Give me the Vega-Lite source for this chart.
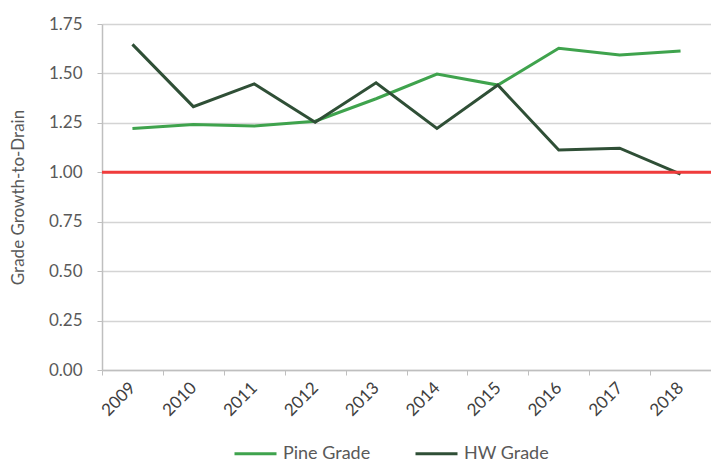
{
  "$schema": "https://vega.github.io/schema/vega-lite/v6.json",
  "autosize": "none",
  "width": 609,
  "height": 346,
  "padding": {"left": 102, "top": 24, "right": 0, "bottom": 96},
  "background": "white",
  "config": {
    "view": {"stroke": null},
    "font": "Lato"
  },
  "data": {
    "values": [
      {"year": "2009", "series": "Pine Grade", "value": 1.222},
      {"year": "2010", "series": "Pine Grade", "value": 1.242},
      {"year": "2011", "series": "Pine Grade", "value": 1.234},
      {"year": "2012", "series": "Pine Grade", "value": 1.258},
      {"year": "2013", "series": "Pine Grade", "value": 1.372},
      {"year": "2014", "series": "Pine Grade", "value": 1.497},
      {"year": "2015", "series": "Pine Grade", "value": 1.441},
      {"year": "2016", "series": "Pine Grade", "value": 1.627},
      {"year": "2017", "series": "Pine Grade", "value": 1.593},
      {"year": "2018", "series": "Pine Grade", "value": 1.613},
      {"year": "2009", "series": "HW Grade", "value": 1.647},
      {"year": "2010", "series": "HW Grade", "value": 1.332},
      {"year": "2011", "series": "HW Grade", "value": 1.447},
      {"year": "2012", "series": "HW Grade", "value": 1.253},
      {"year": "2013", "series": "HW Grade", "value": 1.453},
      {"year": "2014", "series": "HW Grade", "value": 1.222},
      {"year": "2015", "series": "HW Grade", "value": 1.441},
      {"year": "2016", "series": "HW Grade", "value": 1.113},
      {"year": "2017", "series": "HW Grade", "value": 1.122},
      {"year": "2018", "series": "HW Grade", "value": 0.991}
    ]
  },
  "layer": [
    {
      "mark": {"type": "line", "strokeWidth": 3},
      "encoding": {
        "x": {
          "field": "year",
          "type": "ordinal",
          "bandPosition": 0.5,
          "scale": {"type": "band", "paddingInner": 0, "paddingOuter": 0},
          "axis": {
            "title": null,
            "tickBand": "extent",
            "labelAngle": -45,
            "labelAlign": "right",
            "labelBaseline": "middle",
            "labelPadding": 10,
            "labelFontSize": 17,
            "labelColor": "#404040",
            "tickColor": "#bfbfbf",
            "tickSize": 5,
            "domainColor": "#bfbfbf",
            "domainWidth": 1.5,
            "grid": false
          }
        },
        "y": {
          "field": "value",
          "type": "quantitative",
          "scale": {"domain": [0, 1.75], "nice": false, "zero": true},
          "axis": {
            "title": "Grade Growth-to-Drain",
            "titleFontSize": 17,
            "titleFontWeight": "normal",
            "titleColor": "#595959",
            "titlePadding": 21,
            "values": [0, 0.25, 0.5, 0.75, 1, 1.25, 1.5, 1.75],
            "format": ".2f",
            "labelFontSize": 17,
            "labelColor": "#595959",
            "labelPadding": 15,
            "tickSize": 5,
            "tickColor": "#bfbfbf",
            "domainColor": "#bfbfbf",
            "domainWidth": 1.5,
            "gridColor": "#d4d4d4",
            "gridWidth": 1.5
          }
        },
        "color": {
          "field": "series",
          "type": "nominal",
          "scale": {"domain": ["Pine Grade", "HW Grade"], "range": ["#3fa34d", "#2f4f36"]},
          "legend": {
            "title": null,
            "orient": "none",
            "direction": "horizontal",
            "legendX": 131,
            "legendY": 407,
            "symbolType": "stroke",
            "symbolSize": 1764,
            "symbolStrokeWidth": 3,
            "labelFontSize": 18,
            "labelColor": "#595959",
            "labelOffset": 5,
            "columnPadding": 38
          }
        }
      }
    },
    {
      "data": {"values": [{"ref": 1}]},
      "mark": {"type": "rule", "color": "#f03c3c", "strokeWidth": 3},
      "encoding": {
        "y": {"field": "ref", "type": "quantitative"}
      }
    }
  ]
}
